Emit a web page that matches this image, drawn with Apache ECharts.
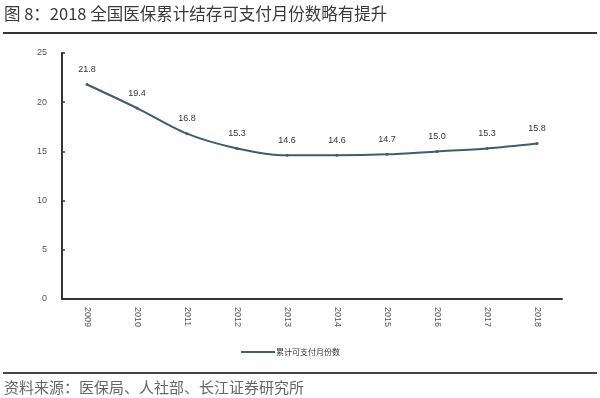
<!DOCTYPE html>
<html><head><meta charset="utf-8">
<script src="https://cdn.jsdelivr.net/npm/echarts@6/dist/echarts.min.js"></script>
<style>html,body{margin:0;padding:0;background:#fff}#c{width:600px;height:398px}</style>
</head><body><div id="c"></div>
<script>
const titleText = '图 8：2018 全国医保累计结存可支付月份数略有提升';
const sourceText = '资料来源：医保局、人社部、长江证券研究所';
const seriesName = '累计可支付月份数';
const categories = ['2009','2010','2011','2012','2013','2014','2015','2016','2017','2018'];
const values = [21.8, 19.4, 16.8, 15.3, 14.6, 14.6, 14.7, 15.0, 15.3, 15.8];
const yTicks = [0, 5, 10, 15, 20, 25];

const chart = echarts.init(document.getElementById('c'));
const font = '"Noto Sans CJK SC", "Liberation Sans", sans-serif';
const numFont = '"Liberation Sans", Arial, sans-serif';
chart.setOption({
  backgroundColor: '#fff',
  animation: false,
  textStyle: { fontFamily: font },
  graphic: [
    { type: 'text', left: 4, top: 5, style: { text: titleText, fontSize: 16.5, fill: '#3a3a3a', fontFamily: font } },
    { type: 'rect', shape: { x: 3, y: 32, width: 594, height: 2 }, style: { fill: '#333' } },
    { type: 'rect', shape: { x: 3, y: 372, width: 594, height: 2 }, style: { fill: '#444' } },
    { type: 'text', left: 4, top: 380, style: { text: sourceText, fontSize: 15, fill: '#666', fontFamily: font } }
  ],
  legend: {
    data: [seriesName],
    left: 236, top: 343,
    itemWidth: 34, itemHeight: 8, itemGap: 4,
    icon: 'path://M0,4 L34,4 L34,6 L0,6 Z',
    textStyle: { fontSize: 8, color: '#333', padding: [0,0,0,-4] }
  },
  grid: { left: 62, right: 38, top: 53, bottom: 99, containLabel: false },
  xAxis: {
    type: 'category', data: categories, boundaryGap: true,
    axisLine: { lineStyle: { color: '#333', width: 2 } },
    axisTick: { inside: true, length: 3, lineStyle: { color: '#333', width: 1.5 } },
    axisLabel: { rotate: -90, fontSize: 9, color: '#555', margin: 8, fontFamily: numFont }
  },
  yAxis: {
    type: 'value', min: 0, max: 25, interval: 5,
    splitLine: { show: false },
    axisLine: { show: true, lineStyle: { color: '#333', width: 2 } },
    axisTick: { show: true, inside: true, length: 3, lineStyle: { color: '#333', width: 1.5 } },
    axisLabel: { fontSize: 9, color: '#555', margin: 15, fontFamily: numFont,
      formatter: v => yTicks.includes(v) ? String(v) : '' }
  },
  series: [{
    name: seriesName, type: 'line', data: values, smooth: 0.3,
    symbol: 'circle', symbolSize: 3,
    lineStyle: { color: '#3f5d6b', width: 2 },
    itemStyle: { color: '#3f5d6b' },
    label: { show: true, position: 'top', distance: 9, fontSize: 9, color: '#333', fontFamily: numFont,
      formatter: p => p.value.toFixed(1) }
  }]
});
</script></body></html>
